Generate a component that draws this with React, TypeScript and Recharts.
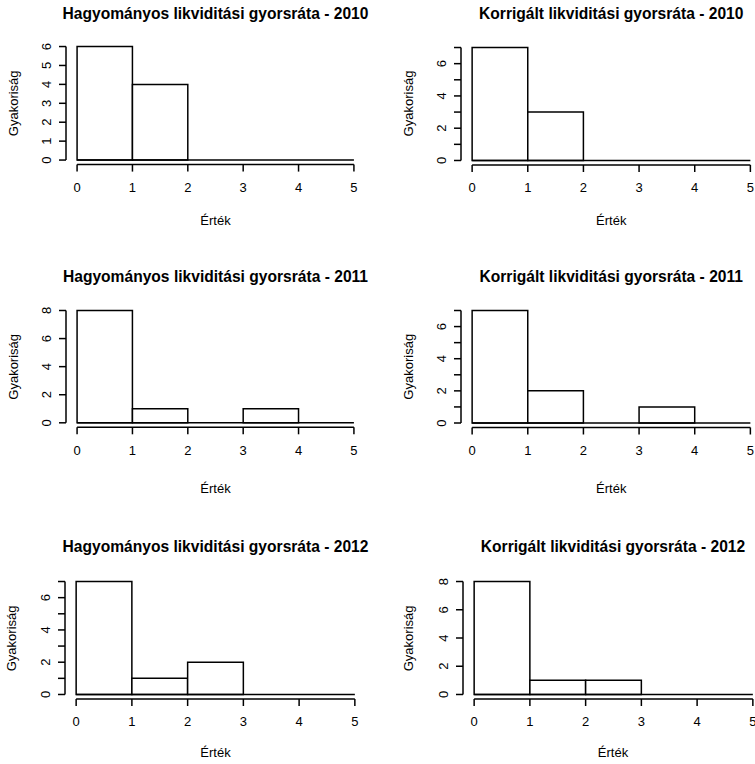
import { ComposedChart, Bar, XAxis, YAxis, ReferenceLine } from 'recharts';

// histogram bins (width 1, from 0 to 5)
const binMids = [0.5, 1.5, 2.5, 3.5, 4.5];
const xTicks = [0, 1, 2, 3, 4, 5];

// frequencies
const hagyomanyos2010 = [6, 4, 0, 0, 0];
const korrigalt2010 = [7, 3, 0, 0, 0];
const hagyomanyos2011 = [8, 1, 0, 1, 0];
const korrigalt2011 = [7, 2, 0, 1, 0];
const hagyomanyos2012 = [7, 1, 2, 0, 0];
const korrigalt2012 = [8, 1, 1, 0, 0];

// y ticks, and the ticks that carry a label
const yTicks6 = [0, 1, 2, 3, 4, 5, 6];
const yTicks7 = [0, 1, 2, 3, 4, 5, 6, 7];
const yTicks8 = [0, 2, 4, 6, 8];
const yLabels6 = [0, 1, 2, 3, 4, 5, 6];
const yLabels7 = [0, 2, 4, 6];
const yLabels8 = [0, 2, 4, 6, 8];

const xTitle = 'Érték';
const yTitle = 'Gyakoriság';

const FONT = '"Liberation Sans", Arial, sans-serif';
const LINE = 1.5;

type Box = { x: number; y: number; w: number; h: number };

const panels = [
  { title: 'Hagyományos likviditási gyorsráta - 2010', counts: hagyomanyos2010, yTicks: yTicks6, yLabels: yLabels6, box: { x: 66, y: 42, w: 299, h: 122.6 }, titleY: 18.5, xLabY: 225, yLabX: 17.6 },
  { title: 'Korrigált likviditási gyorsráta - 2010', counts: korrigalt2010, yTicks: yTicks7, yLabels: yLabels7, box: { x: 461, y: 42.5, w: 300.5, h: 122 }, titleY: 18.5, xLabY: 225, yLabX: 412.6 },
  { title: 'Hagyományos likviditási gyorsráta - 2011', counts: hagyomanyos2011, yTicks: yTicks8, yLabels: yLabels8, box: { x: 66, y: 306.2, w: 299, h: 121.3 }, titleY: 282, xLabY: 493.3, yLabX: 17.6 },
  { title: 'Korrigált likviditási gyorsráta - 2011', counts: korrigalt2011, yTicks: yTicks7, yLabels: yLabels7, box: { x: 461, y: 306, w: 300.5, h: 121.5 }, titleY: 282, xLabY: 493.3, yLabX: 412.6 },
  { title: 'Hagyományos likviditási gyorsráta - 2012', counts: hagyomanyos2012, yTicks: yTicks7, yLabels: yLabels7, box: { x: 65, y: 577.4, w: 301, h: 122 }, titleY: 552, xLabY: 757.3, yLabX: 16.5 },
  { title: 'Korrigált likviditási gyorsráta - 2012', counts: korrigalt2012, yTicks: yTicks8, yLabels: yLabels8, box: { x: 462.5, y: 577.4, w: 301, h: 122 }, titleY: 552, xLabY: 757.3, yLabX: 413 },
];

function YTick(props: any) {
  const { x, y, payload, labels } = props;
  if (!labels.includes(payload.value)) return null;
  return (
    <text x={x} y={y} transform={`rotate(-90 ${x} ${y})`} textAnchor="middle" fill="#000" fontSize={13} fontFamily={FONT}>
      {payload.value}
    </text>
  );
}

function Histogram({ counts, yTicks, yLabels, box }: { counts: number[]; yTicks: number[]; yLabels: number[]; box: Box }) {
  const data = binMids.map((mid, i) => ({ mid, count: counts[i] }));
  const yMax = yTicks[yTicks.length - 1];
  const pad = yMax * 0.04;
  const axisW = 60;
  const axisH = 30;
  const m = { top: 10, right: 12, bottom: 0, left: 0 };
  // one bin wide, a hair less so recharts does not shrink it
  const binPx = box.w / 5.4 - 0.02;
  return (
    <div style={{ position: 'absolute', left: box.x - axisW, top: box.y - m.top }}>
      <ComposedChart
        width={box.w + axisW + m.right}
        height={box.h + m.top + axisH}
        data={data}
        margin={m}
        barCategoryGap={0}
        barGap={0}
      >
        <XAxis
          type="number"
          dataKey="mid"
          domain={[-0.2, 5.2]}
          ticks={xTicks}
          interval={0}
          allowDataOverflow
          height={axisH}
          axisLine={false}
          tickSize={7}
          tickMargin={11}
          tickLine={{ stroke: '#000', strokeWidth: LINE }}
          tick={{ fill: '#000', fontSize: 13, fontFamily: FONT }}
        />
        <YAxis
          type="number"
          domain={[-pad, yMax + pad]}
          ticks={yTicks}
          interval={0}
          allowDataOverflow
          width={axisW}
          axisLine={false}
          tickSize={7}
          tickMargin={8}
          tickLine={{ stroke: '#000', strokeWidth: LINE }}
          tick={<YTick labels={yLabels} />}
        />
        <ReferenceLine segment={[{ x: 0, y: 0 }, { x: 5, y: 0 }]} stroke="#000" strokeWidth={LINE} ifOverflow="visible" />
        <Bar dataKey="count" fill="#fff" stroke="#000" strokeWidth={LINE} barSize={binPx} isAnimationActive={false} />
        <ReferenceLine segment={[{ x: -0.2, y: 0 }, { x: -0.2, y: yMax }]} stroke="#000" strokeWidth={LINE} ifOverflow="visible" />
        <ReferenceLine segment={[{ x: 0, y: -pad }, { x: 5, y: -pad }]} stroke="#000" strokeWidth={LINE} ifOverflow="visible" />
      </ComposedChart>
    </div>
  );
}

export default function App() {
  return (
    <div style={{ position: 'absolute', left: 0, top: 0, width: 755, height: 764, overflow: 'hidden', background: '#fff' }}>
      {panels.map((p) => (
        <Histogram key={p.title} counts={p.counts} yTicks={p.yTicks} yLabels={p.yLabels} box={p.box} />
      ))}
      <svg width={755} height={764} style={{ position: 'absolute', left: 0, top: 0, pointerEvents: 'none' }}>
        {panels.map((p) => {
          const cx = p.box.x + p.box.w / 2;
          const cy = p.box.y + p.box.h / 2;
          return (
            <g key={p.title} fontFamily={FONT} fill="#000">
              <text x={cx} y={p.titleY} textAnchor="middle" fontSize={15.6} fontWeight="bold">{p.title}</text>
              <text x={cx} y={p.xLabY} textAnchor="middle" fontSize={13}>{xTitle}</text>
              <text x={p.yLabX} y={cy} transform={`rotate(-90 ${p.yLabX} ${cy})`} textAnchor="middle" fontSize={13}>{yTitle}</text>
            </g>
          );
        })}
      </svg>
    </div>
  );
}
